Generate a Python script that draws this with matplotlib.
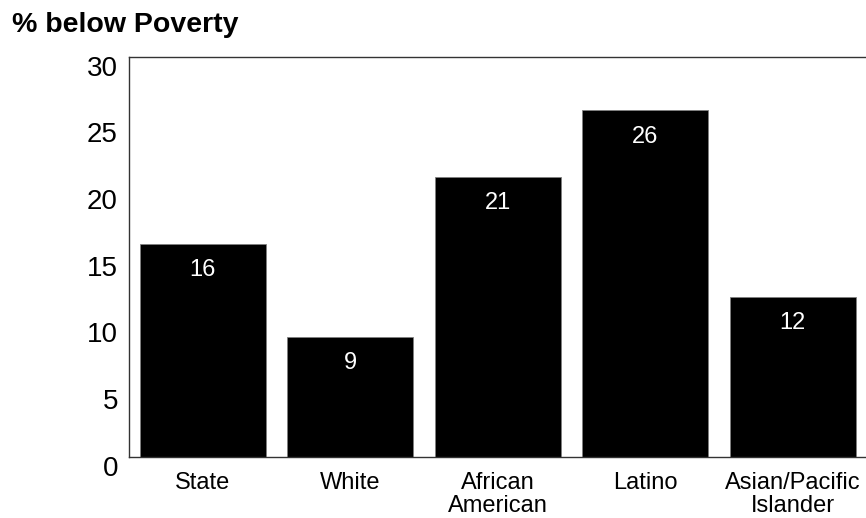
import matplotlib
matplotlib.use('Agg')
import matplotlib.pyplot as plt
import matplotlib.transforms as mtransforms

plt.rcParams['font.family'] = ['Liberation Sans', 'DejaVu Sans']

# data
groups = ['State', 'White', 'African\nAmerican', 'Latino', 'Asian/Pacific\nIslander']
pct_below_poverty = [16, 9, 21, 26, 12]
bar_labels = ['16', '9', '21', '26', '12']
y_ticks = [0, 5, 10, 15, 20, 25, 30]

fig = plt.figure(figsize=(8.66, 5.18), dpi=100)
ax = fig.add_axes([129 / 866, 61 / 518, 737.5 / 866, 400 / 518])

x = list(range(len(groups)))
bars = ax.bar(x, pct_below_poverty, width=0.855, color='black',
              edgecolor='#808080', linewidth=0.6)

# white value labels just inside the top of each bar
for rect, lab in zip(bars, bar_labels):
    ax.annotate(lab, (rect.get_x() + rect.get_width() / 2, rect.get_height()),
                xytext=(0, -19), textcoords='offset points',
                ha='center', va='center', color='white', fontsize=17)

ax.set_xlim(-0.5, 4.5)
ax.set_ylim(0, 30)
ax.set_yticks(y_ticks)
ax.set_xticks(x)
ax.set_xticklabels(groups, fontsize=17, linespacing=1.1)
ax.tick_params(axis='y', length=0, pad=8, labelsize=20)
ax.tick_params(axis='x', length=0, pad=10.5)

# y labels sit a little below their gridline positions, as in the source
shift = mtransforms.ScaledTranslation(0, -8.5 / 100, fig.dpi_scale_trans)
for lbl in ax.get_yticklabels():
    lbl.set_transform(lbl.get_transform() + shift)

for side in ['left', 'top', 'bottom']:
    ax.spines[side].set_color('#333333')
    ax.spines[side].set_linewidth(1)
ax.spines['right'].set_visible(False)

fig.text(12 / 866, 1 - 25 / 518, '% below Poverty', fontsize=20.5,
         fontweight='bold', ha='left', va='center')

fig.savefig('out.png', dpi=100)
